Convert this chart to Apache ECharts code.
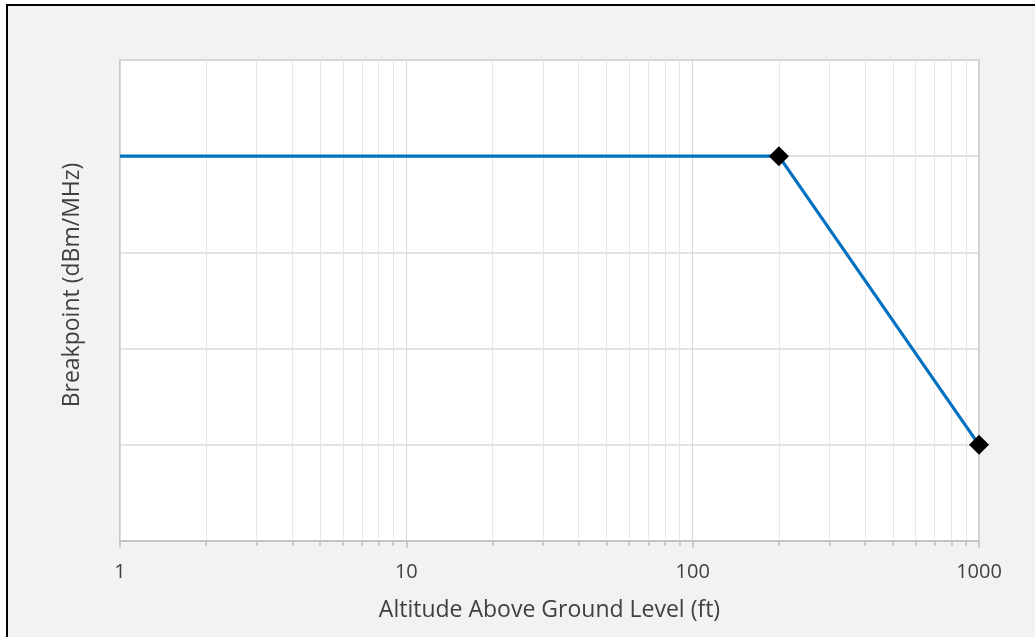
<!DOCTYPE html>
<html>
<head>
<meta charset="utf-8">
<script src="https://cdn.jsdelivr.net/npm/echarts@6/dist/echarts.min.js"></script>
<style>
  html, body { margin: 0; padding: 0; background: #ffffff; }
  #wrap { position: relative; width: 1035px; height: 637px; overflow: hidden; }
  #frame { position: absolute; left: 6px; top: 4px; width: 1100px; height: 700px;
           background: #f2f2f2; border-left: 2px solid #000; border-top: 2px solid #000; }
  #chart { position: absolute; left: 0; top: 0; width: 1035px; height: 637px; }
</style>
</head>
<body>
<div id="wrap"><div id="frame"></div><div id="chart"></div></div>
<script>
// Data
const altitudes = [1, 200, 1000];          // ft
const breakpoint = [4, 4, 1];              // relative level (unlabelled axis)
const markerShown = [false, true, true];
const xMajorTicks = [1, 10, 100, 1000];
const xMinorTicks = [2, 3, 4, 5, 6, 7, 8, 9, 20, 30, 40, 50, 60, 70, 80, 90, 200, 300, 400, 500, 600, 700, 800, 900];
const xTitle = 'Altitude Above Ground Level (ft)';
const yTitle = 'Breakpoint (dBm/MHz)';

const FONT = '"Open Sans", "Noto Sans", sans-serif';
const TXT = '#404040';

const chart = echarts.init(document.getElementById('chart'), null, { renderer: 'canvas' });

const seriesData = altitudes.map((a, i) => ({
  value: [a, breakpoint[i]],
  symbol: markerShown[i] ? 'diamond' : 'none'
}));

chart.setOption({
  backgroundColor: 'transparent',
  animation: false,
  grid: {
    left: 120, right: 56, top: 60, bottom: 96,
    show: true, backgroundColor: '#ffffff', borderColor: '#bfbfbf', borderWidth: 1.5
  },
  xAxis: [
    {
      type: 'log', logBase: 10, min: 1, max: 1000,
      name: xTitle, nameLocation: 'middle', nameGap: 58,
      nameTextStyle: { fontFamily: FONT, fontSize: 23, color: TXT },
      axisLine: { show: true, lineStyle: { color: '#bfbfbf', width: 1.5 } },
      axisTick: { show: true, length: 7, customValues: xMajorTicks, lineStyle: { color: '#bfbfbf', width: 1.5 } },
      axisLabel: { customValues: xMajorTicks, margin: 21, fontFamily: FONT, fontSize: 20, color: TXT,
                   formatter: v => String(Math.round(v)) },
      splitLine: { show: true, lineStyle: { color: '#d9d9d9', width: 1 } },
      z: 3
    },
    {
      type: 'log', logBase: 10, min: 1, max: 1000, position: 'bottom',
      axisLine: { show: false },
      axisTick: { show: true, length: 5, customValues: xMinorTicks, lineStyle: { color: '#bfbfbf', width: 1.5 } },
      axisLabel: { show: false, customValues: xMinorTicks },
      splitLine: { show: true, lineStyle: { color: '#e8e8e8', width: 1 } },
      z: 2
    }
  ],
  yAxis: {
    type: 'value', min: 0, max: 5, interval: 1,
    axisLine: { show: false }, axisTick: { show: false }, axisLabel: { show: false },
    splitLine: { show: true, lineStyle: { color: '#d9d9d9', width: 1.5 } }
  },
  graphic: [{
    type: 'text', x: 72, y: 285, rotation: Math.PI / 2,
    style: { text: yTitle, fill: TXT, font: '23px ' + FONT, textAlign: 'center', textVerticalAlign: 'middle' }
  }],
  series: [{
    type: 'line',
    xAxisIndex: 0,
    data: seriesData,
    symbolSize: 20,
    itemStyle: { color: '#000000' },
    lineStyle: { color: '#0070c0', width: 3.2 },
    z: 5
  }]
});
</script>
</body>
</html>
